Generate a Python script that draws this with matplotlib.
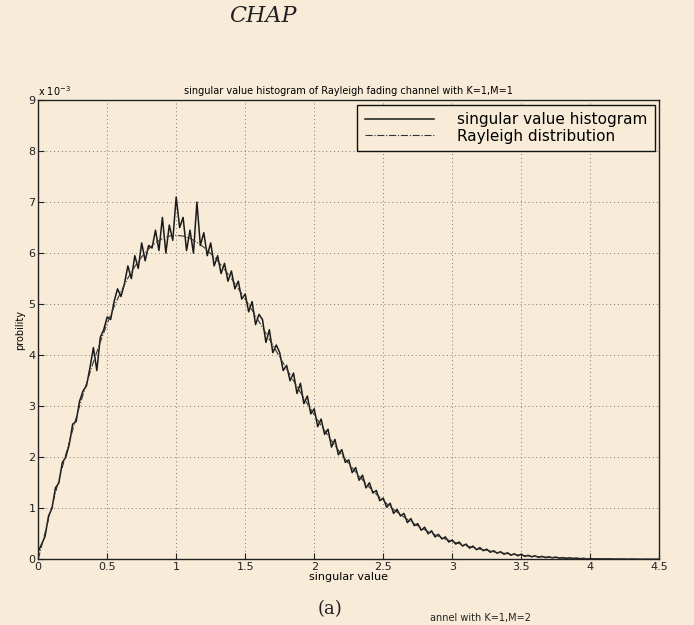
import numpy as np
import matplotlib
matplotlib.use("Agg")
import matplotlib.pyplot as plt

# ---- data (probability values in units of 1e-3) ----
hist_step = 0.025
hist_vals = [
    0.15, 0.30, 0.45, 0.85, 1.00, 1.40, 1.50, 1.90, 2.00, 2.25,
    2.65, 2.70, 3.10, 3.30, 3.40, 3.75, 4.15, 3.70, 4.35, 4.50,
    4.75, 4.70, 5.05, 5.30, 5.15, 5.40, 5.75, 5.50, 5.95, 5.70,
    6.20, 5.85, 6.15, 6.10, 6.45, 6.05, 6.70, 6.00, 6.55, 6.25,
    7.10, 6.50, 6.70, 6.05, 6.45, 6.00, 7.00, 6.15, 6.40, 5.95,
    6.20, 5.75, 5.95, 5.60, 5.80, 5.45, 5.65, 5.30, 5.45, 5.10,
    5.20, 4.85, 5.05, 4.60, 4.80, 4.70, 4.25, 4.50, 4.05, 4.20,
    4.05, 3.70, 3.80, 3.50, 3.65, 3.25, 3.45, 3.05, 3.20, 2.85,
    2.95, 2.60, 2.75, 2.45, 2.55, 2.20, 2.35, 2.05, 2.15, 1.90,
    1.95, 1.70, 1.80, 1.55, 1.65, 1.40, 1.50, 1.30, 1.35, 1.15,
    1.20, 1.02, 1.10, 0.90, 0.98, 0.85, 0.90, 0.72, 0.80, 0.66,
    0.70, 0.57, 0.63, 0.50, 0.56, 0.44, 0.49, 0.40, 0.44, 0.34,
    0.38, 0.30, 0.34, 0.26, 0.30, 0.22, 0.26, 0.19, 0.23, 0.17,
    0.20, 0.14, 0.17, 0.12, 0.15, 0.10, 0.13, 0.08, 0.11, 0.07,
    0.10, 0.06, 0.08, 0.05, 0.07, 0.04, 0.06, 0.035, 0.05, 0.03,
    0.045, 0.025, 0.035, 0.02, 0.03, 0.015, 0.025, 0.012, 0.02, 0.01,
    0.015, 0.008, 0.012, 0.006, 0.01, 0.005, 0.008, 0.004, 0.006, 0.003,
    0.005, 0.002, 0.004, 0.002, 0.003, 0.001, 0.002, 0.001, 0.002, 0.001,
    0.001,
]
hist_x = np.arange(len(hist_vals)) * hist_step

ray_x = [0, 0.05, 0.1, 0.15, 0.2, 0.25, 0.3, 0.35, 0.4, 0.45, 0.5, 0.55, 0.6,
         0.65, 0.7, 0.75, 0.8, 0.85, 0.9, 0.95, 1.0, 1.05, 1.1, 1.15, 1.2,
         1.25, 1.3, 1.35, 1.4, 1.45, 1.5, 1.55, 1.6, 1.65, 1.7, 1.75, 1.8,
         1.85, 1.9, 1.95, 2.0, 2.05, 2.1, 2.15, 2.2, 2.25, 2.3, 2.35, 2.4,
         2.45, 2.5, 2.55, 2.6, 2.65, 2.7, 2.75, 2.8, 2.85, 2.9, 2.95, 3.0,
         3.1, 3.2, 3.3, 3.4, 3.5, 3.6, 3.7, 3.8, 3.9, 4.0, 4.1, 4.2, 4.3,
         4.4, 4.5]
ray_vals = [0, 0.523, 1.042, 1.553, 2.053, 2.537, 3.003, 3.447, 3.866, 4.258,
            4.620, 4.951, 5.247, 5.511, 5.736, 5.927, 6.082, 6.202, 6.285,
            6.334, 6.350, 6.334, 6.289, 6.216, 6.116, 5.992, 5.847, 5.682,
            5.501, 5.305, 5.099, 4.882, 4.658, 4.429, 4.196, 3.963, 3.730,
            3.499, 3.272, 3.049, 2.834, 2.625, 2.424, 2.232, 2.048, 1.874,
            1.710, 1.556, 1.410, 1.275, 1.150, 1.034, 0.927, 0.828, 0.738,
            0.656, 0.582, 0.514, 0.453, 0.398, 0.349, 0.266, 0.200, 0.149,
            0.110, 0.080, 0.058, 0.041, 0.029, 0.020, 0.014, 0.009, 0.006,
            0.004, 0.002, 0.001]

x_ticks = [0, 0.5, 1, 1.5, 2, 2.5, 3, 3.5, 4, 4.5]
x_tick_labels = ["0", "0.5", "1", "1.5", "2", "2.5", "3", "3.5", "4", "4.5"]
y_ticks = [0, 1, 2, 3, 4, 5, 6, 7, 8, 9]

bg = "#f8ecd9"
fig = plt.figure(figsize=(6.94, 6.25), dpi=100, facecolor=bg)
ax = fig.add_axes([0.055, 0.105, 0.895, 0.735], facecolor=bg)

ax.plot(hist_x, hist_vals, color="#1a1a1a", lw=1.1, label="singular value histogram")
ax.plot(ray_x, ray_vals, color="#333333", lw=0.8, linestyle="-.",
        label="Rayleigh distribution")

ax.set_xlim(0, 4.5)
ax.set_ylim(0, 9)
ax.set_xticks(x_ticks)
ax.set_xticklabels(x_tick_labels)
ax.set_yticks(y_ticks)
ax.tick_params(direction="in", labelsize=8, length=4, colors="#222222", pad=2)
ax.grid(True, linestyle=(0, (1, 3)), color="#777777", lw=0.7)
for s in ax.spines.values():
    s.set_color("#222222")
    s.set_linewidth(1.0)

ax.set_title("singular value histogram of Rayleigh fading channel with K=1,M=1",
             fontsize=7, pad=4)
ax.set_xlabel("singular value", fontsize=8, labelpad=0)
ax.set_ylabel("probility", fontsize=7, labelpad=2)
ax.text(0.0, 1.005, "x 10$^{-3}$", transform=ax.transAxes, fontsize=7,
        ha="left", va="bottom")

leg = ax.legend(loc="upper right", fontsize=11, handlelength=4.5,
                frameon=True, fancybox=False, borderaxespad=0.3,
                labelspacing=0.1, borderpad=0.5, handletextpad=1.5)
leg.get_frame().set_edgecolor("#111111")
leg.get_frame().set_facecolor(bg)
leg.get_frame().set_linewidth(1.0)
leg.get_frame().set_alpha(1)

fig.text(0.33, 0.975, "CHAP", fontsize=16, family="DejaVu Serif",
         style="italic", ha="left", va="center", color="#222222")
fig.text(0.475, 0.025, "(a)", fontsize=13, family="DejaVu Serif",
         ha="center", va="center", color="#222222")
fig.text(0.62, 0.004, "annel with K=1,M=2", fontsize=7, ha="left",
         va="bottom", color="#222222")

fig.savefig("out.png", dpi=100, facecolor=bg)
